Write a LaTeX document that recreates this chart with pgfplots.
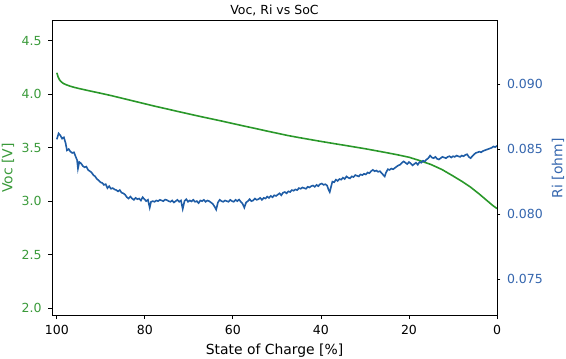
\documentclass[border=0pt]{standalone}
\usepackage{fontspec}
\setmainfont{DejaVu Sans}
\usepackage{pgfplots}
\pgfplotsset{compat=1.18}
\definecolor{vgreen}{HTML}{2A982A}
\definecolor{vgreentxt}{HTML}{3A9A3A}
\definecolor{riblue}{HTML}{1F5DA6}
\definecolor{ribluetxt}{HTML}{3566AE}
\pgfplotsset{
  common/.style={
    at={(0,0)}, anchor=south west,
    width=445pt, height=295pt, scale only axis,
    x dir=reverse, xmin=0, xmax=101.1,
    /pgf/number format/assume math mode=true,
    tick align=outside, major tick length=3.5pt,
    tick style={black, line width=0.8pt},
    axis line style={line width=0.8pt},
    ticklabel style={font=\fontsize{12.5}{14}\selectfont},
    label style={font=\fontsize{13.9}{16}\selectfont},
  }
}
\begin{document}
\begin{tikzpicture}
\useasboundingbox (-52pt,-43.3pt) rectangle (514pt,315.7pt);
\begin{axis}[common, name=ax1,
  ymin=1.928, ymax=4.687,
  xtick={0,20,40,60,80,100},
  ytick={2,2.5,3,3.5,4,4.5},
  xtick pos=left, ytick pos=left,
  xticklabel style={yshift=-2.5pt},
  yticklabel style={xshift=-3.5pt, color=vgreentxt, /pgf/number format/fixed, /pgf/number format/fixed zerofill, /pgf/number format/precision=1},
  ylabel={Voc [V]}, ylabel style={color=vgreentxt, at={(rel axis cs:-0.099,0.5)}, anchor=center},
  xlabel={State of Charge [\%]}, xlabel style={at={(rel axis cs:0.5,0)}, anchor=center, yshift=-35pt},
  title={\fontsize{12.5}{14}\selectfont Voc, Ri vs SoC},
  title style={at={(rel axis cs:0.5,1)}, anchor=base, yshift=-0.3pt},
]
\addplot[vgreen, line width=1.6pt] coordinates {
(100,4.20) (99.7,4.16) (99.4,4.135) (99,4.115) (98.5,4.10) (98,4.09) (97,4.075) (96,4.063) (95,4.053)
(92.5,4.03) (90,4.008) (87.5,3.985) (85,3.96) (82.5,3.935) (80,3.91) (77.5,3.885) (75,3.862)
(72.5,3.838) (70,3.815) (67.5,3.792) (65,3.77) (62.5,3.748) (60,3.725) (57.5,3.702) (55,3.68)
(52.5,3.657) (50,3.635) (47.5,3.613) (45,3.594) (42.5,3.576) (40,3.558) (37.5,3.541) (35,3.524)
(32.5,3.507) (30,3.49) (27.5,3.471) (25,3.452) (22.5,3.432) (20,3.41) (17.5,3.378) (15,3.342)
(12.5,3.295) (10,3.235) (8,3.185) (6,3.13) (4,3.065) (3,3.03) (2,2.995) (1,2.96) (0,2.93)
};
\end{axis}
\begin{axis}[common,
  ymin=0.0722, ymax=0.09486,
  axis x line=none, axis y line*=right,
  ytick={0.075,0.08,0.085,0.09},
  scaled y ticks=false,
  yticklabel style={xshift=3pt, color=ribluetxt, /pgf/number format/fixed, /pgf/number format/fixed zerofill, /pgf/number format/precision=3},
  ylabel={Ri [ohm]}, ylabel style={color=ribluetxt, at={(rel axis cs:1.137,0.5)}, anchor=center},
]
\addplot[riblue, line width=1.6pt] coordinates {
(100.0,0.08575) (99.6,0.08620) (99.2,0.08605) (98.8,0.08580) (98.4,0.08590) (98.0,0.08545)
(97.7,0.08490) (97.3,0.08500) (96.9,0.08480) (96.5,0.08470) (96.1,0.08475) (95.7,0.08440)
(95.4,0.08415) (95.2,0.08350) (94.9,0.08400) (94.5,0.08390) (94.1,0.08370) (93.7,0.08360)
(93.3,0.08365) (92.9,0.08340) (92.5,0.08330) (92.1,0.08320) (91.7,0.08300) (91.3,0.08290)
(90.9,0.08270) (90.5,0.08260) (90.1,0.08245) (89.7,0.08240) (89.3,0.08225) (88.9,0.08230)
(88.5,0.08200) (88.1,0.08215) (87.7,0.08195) (87.3,0.08200) (86.9,0.08190) (86.5,0.08185)
(86.1,0.08175) (85.7,0.08185) (85.3,0.08165) (84.9,0.08160) (84.5,0.08150) (84.1,0.08130)
(83.7,0.08120) (83.3,0.08135) (82.9,0.08120) (82.5,0.08110) (82.1,0.08125) (81.7,0.08115)
(81.3,0.08120) (80.9,0.08105) (80.5,0.08130) (80.1,0.08115) (79.7,0.08100) (79.3,0.08110)
(78.9,0.08050) (78.6,0.08095) (78.2,0.08100) (77.8,0.08095) (77.4,0.08105) (77.0,0.08100)
(76.6,0.08110) (76.2,0.08105) (75.8,0.08100) (75.4,0.08112) (75.0,0.08108) (74.6,0.08100)
(74.2,0.08095) (73.8,0.08105) (73.4,0.08090) (73.0,0.08100) (72.6,0.08110) (72.2,0.08095)
(71.8,0.08105) (71.4,0.08040) (71.0,0.08100) (70.6,0.08115) (70.2,0.08095) (69.8,0.08105)
(69.4,0.08098) (69.0,0.08110) (68.6,0.08095) (68.2,0.08100) (67.8,0.08085) (67.4,0.08105)
(67.0,0.08100) (66.6,0.08110) (66.2,0.08095) (65.8,0.08105) (65.4,0.08100) (65.0,0.08090)
(64.6,0.08080) (64.2,0.08060) (63.8,0.08035) (63.4,0.08090) (63.0,0.08110) (62.6,0.08100)
(62.2,0.08095) (61.8,0.08105) (61.4,0.08100) (61.0,0.08095) (60.6,0.08110) (60.2,0.08100)
(59.8,0.08095) (59.4,0.08110) (59.0,0.08100) (58.6,0.08112) (58.2,0.08095) (57.8,0.08080)
(57.4,0.08050) (57.0,0.08090) (56.6,0.08100) (56.2,0.08115) (55.8,0.08100) (55.4,0.08105)
(55.0,0.08120) (54.6,0.08110) (54.2,0.08115) (53.8,0.08125) (53.4,0.08110) (53.0,0.08125)
(52.6,0.08120) (52.2,0.08135) (51.8,0.08125) (51.4,0.08140) (51.0,0.08130) (50.6,0.08145)
(50.2,0.08140) (49.8,0.08150) (49.4,0.08160) (49.0,0.08145) (48.6,0.08165) (48.2,0.08170)
(47.8,0.08160) (47.4,0.08175) (47.0,0.08170) (46.6,0.08185) (46.2,0.08180) (45.8,0.08190)
(45.4,0.08185) (45.0,0.08200) (44.6,0.08195) (44.2,0.08205) (43.8,0.08200) (43.4,0.08195)
(43.0,0.08210) (42.6,0.08205) (42.2,0.08215) (41.8,0.08220) (41.4,0.08210) (41.0,0.08225)
(40.6,0.08215) (40.2,0.08230) (39.8,0.08235) (39.4,0.08225) (39.0,0.08230) (38.6,0.08220)
(38.3,0.08190) (38.0,0.08170) (37.7,0.08210) (37.4,0.08250) (37.0,0.08245) (36.6,0.08265)
(36.2,0.08255) (35.8,0.08270) (35.4,0.08265) (35.0,0.08280) (34.6,0.08270) (34.2,0.08290)
(33.8,0.08280) (33.4,0.08275) (33.0,0.08290) (32.6,0.08285) (32.2,0.08300) (31.8,0.08295)
(31.4,0.08290) (31.0,0.08305) (30.6,0.08300) (30.2,0.08310) (29.8,0.08305) (29.4,0.08320)
(29.0,0.08315) (28.6,0.08330) (28.2,0.08340) (27.8,0.08330) (27.4,0.08335) (27.0,0.08325)
(26.6,0.08330) (26.2,0.08315) (25.8,0.08300) (25.5,0.08290) (25.2,0.08320) (24.8,0.08345)
(24.4,0.08340) (24.0,0.08350) (23.6,0.08345) (23.2,0.08355) (22.8,0.08365) (22.4,0.08375)
(22.0,0.08380) (21.6,0.08395) (21.2,0.08405) (20.8,0.08395) (20.4,0.08385) (20.0,0.08400)
(19.6,0.08390) (19.2,0.08375) (18.8,0.08385) (18.4,0.08395) (18.0,0.08380) (17.6,0.08400)
(17.2,0.08395) (16.8,0.08410) (16.4,0.08405) (16.0,0.08420) (15.6,0.08430) (15.2,0.08450)
(14.8,0.08435) (14.4,0.08430) (14.0,0.08440) (13.6,0.08425) (13.2,0.08420) (12.8,0.08430)
(12.4,0.08440) (12.0,0.08435) (11.6,0.08430) (11.2,0.08440) (10.8,0.08445) (10.4,0.08435)
(10.0,0.08445) (9.6,0.08440) (9.2,0.08450) (8.8,0.08445) (8.4,0.08440) (8.0,0.08450)
(7.6,0.08445) (7.2,0.08455) (6.8,0.08460) (6.4,0.08440) (6.0,0.08430) (5.6,0.08445)
(5.2,0.08460) (4.8,0.08470) (4.4,0.08475) (4.0,0.08480) (3.6,0.08475) (3.2,0.08485)
(2.8,0.08490) (2.4,0.08495) (2.0,0.08500) (1.6,0.08505) (1.2,0.08510) (0.8,0.08520)
(0.4,0.08515) (0.0,0.08525)
};
\end{axis}
\draw[black, line width=1pt] (0pt,295pt) -- (445pt,295pt);
\end{tikzpicture}
\end{document}
